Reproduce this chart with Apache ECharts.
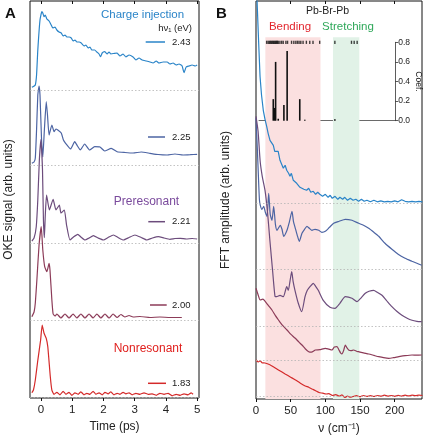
<!DOCTYPE html>
<html><head><meta charset="utf-8">
<script src="https://cdn.jsdelivr.net/npm/echarts@6/dist/echarts.min.js"></script>
<style>html,body{margin:0;padding:0;background:#fff}#c{width:424px;height:440px}</style>
</head><body><div id="c"></div>
<script>
const FONT = '"Liberation Sans", Arial, Helvetica, sans-serif';
const energies = ['2.43', '2.25', '2.21', '2.00', '1.83'];
const colors = ['#2a84c8', '#4c64a3', '#6c4c7c', '#8c3b58', '#d42a2a'];

// ---- Panel A: OKE signal vs time (ps), value above each trace's baseline ----
const a243_t = [-0.29,-0.24,-0.18,-0.14,-0.10,-0.03,0.03,0.06,0.10,0.14,0.19,0.26,0.33,0.38,0.45,0.51,0.58,0.65,0.71,0.77,0.83,0.90,0.97,1.03,1.09,1.15,1.22,1.29,1.38,1.44,1.51,1.57,1.63,1.72,1.79,1.86,1.91,1.96,2.04,2.12,2.18,2.24,2.36,2.44,2.53,2.63,2.72,2.82,2.95,3.04,3.14,3.24,3.37,3.49,3.59,3.69,3.78,3.91,4.04,4.13,4.23,4.33,4.42,4.52,4.58,4.65,4.74,4.84,4.94,5.00];
const a243_v = [2.7,3.5,5,15,40,70,78.3,77,73.3,75,71,69,65,62,63,60,58,57,54,55,53,53,52,49,50,48,48,47,44,45,42,43,40,40,38,36,33.3,37,38.3,36,38,36,36.7,37,34,36,33,35,33,30,32,30,29,28,27,29,27,28,28,26,27,25,26,24,17.3,23,24,25,24,25];
const a225_t = [-0.29,-0.22,-0.18,-0.14,-0.10,-0.06,-0.03,0.02,0.06,0.11,0.17,0.21,0.26,0.35,0.42,0.48,0.54,0.65,0.72,0.79,0.95,1.08,1.17,1.26,1.40,1.56,1.72,1.89,2.04,2.25,2.44,2.69,2.95,3.21,3.49,3.75,4.04,4.29,4.55,4.78,5.00];
const a225_v = [1.7,3,7,35,70,79,70,25,8,35,63.3,50,30,40,33.3,36,35,32,25,21.7,16,23.3,19,15,21,15,18.3,18,14,16.7,13.3,12.5,12,13,11.7,10.5,10,11,10,10.3,10.7];
const a221_t = [-0.29,-0.22,-0.15,-0.10,-0.05,0.00,0.05,0.08,0.11,0.14,0.18,0.27,0.39,0.48,0.59,0.64,0.75,0.82,0.93,1.04,1.18,1.28,1.41,1.54,1.68,1.83,2.00,2.15,2.32,2.47,2.64,2.82,3.01,3.21,3.39,3.57,3.76,3.94,4.13,4.29,4.46,4.65,4.84,5.00];
const a221_v = [2.7,5.7,17,44,84,104,74,24,6,29,48.7,33.7,44.4,33.7,38.7,30.7,33.7,18.7,3.7,6.7,9.4,6.7,3.7,5.7,8,5.7,3.7,6.2,8.7,6.2,3.7,6.2,8.7,6.2,3.7,5.7,7,5.7,4.4,5.2,5.4,4.7,5.2,4.7];
const a200_t = [-0.29,-0.22,-0.18,-0.13,-0.06,0.01,0.06,0.12,0.19,0.26,0.29,0.35,0.39,0.45,0.51,0.64,0.77,0.90,1.03,1.15,1.28,1.41,1.54,1.67,1.79,1.92,2.05,2.18,2.31,2.44,2.56,2.69,2.82,2.95,3.17,3.49,3.81,4.13,4.51];
const a200_v = [3.3,8,17,40,75,93.3,70,53.3,48.3,56.7,50,20,6,4,6,2,6,2,6,2,6,2,6,2,6,2,6,2,6,2.5,5.5,3,4.5,3,3.5,2.5,3,2.5,2.5];
const a183_t = [-0.29,-0.24,-0.18,-0.10,-0.01,0.04,0.10,0.17,0.22,0.30,0.35,0.42,0.51,0.61,0.71,0.80,0.90,0.99,1.09,1.19,1.28,1.38,1.47,1.57,1.67,1.76,1.86,1.96,2.05,2.15,2.24,2.34,2.44,2.53,2.63,2.72,2.82,2.92,3.04,3.17,3.30,3.43,3.56,3.69,3.81,3.94,4.07,4.20,4.33,4.46,4.58,4.71,4.81,4.87];
const a183_v = [4.6,7.3,17.3,37,57.3,72.3,64,59,50.6,20.6,7.3,3,5,2.5,6,3,5,2,4.5,3,5.5,2.5,4,3,6,3,4.5,2.5,5,3.5,5.5,2.5,4,3,5,3.5,4.5,2.5,4,3,4.5,3,3.5,2,4,3,4,1.5,3,2,3.5,2.5,4.5,3];
const traceOffsetsA = [308, 233, 154.3, 78, 0.7];

// ---- Panel B: FFT amplitude vs wavenumber (cm^-1) ----
const b243_nu = [0,1.5,3.3,5.8,8,10.5,13,15.4,17.5,20.2,22,25,27,29.8,32,34.6,37,39.4,42,44.3,47,49,51,53.8,56,58.7,61,63.4,66,69,71,73,76,79,82.6,86,89,92,96,100,104,107,110,114,118,121,125,128,132,136,140,144,148,152,156,160,165,170,175,180,185,190,195,200,205,210,215,220,225,230,235,240];
const b243_v = [260,203,170,127,108,93,84,77,70,63,65,58,52,50,52,43,45,35,38,33,30,27,30,23,25,20,22,16,18,14,16,13,15,11,12,9,11,9,7,9,6,8,5,7,4,6,4,6,3,5,3,4,2,4,2,3,1.5,3,1.5,2.5,1.5,2,1.5,2.5,1.5,3.5,2,1.5,2,1.5,2,1.5];
const b225_nu = [0,2,4,5,6.2,8.5,11.1,13.5,15.9,18.3,20.5,23,25.5,28,30.3,35,37.5,40,44.7,48,51.9,54,56.7,59.5,62.4,66.3,70,73.5,77,80.7,85,90.4,95,100,106,112,120,128.8,138.4,148,155,162.5,170,177,186,196,205,215,225,232,239];
const b225_v = [151,119,84,69,64,60,63,57,53,76,55,49,63,45,39,44,40,33,39,47,58,48,41,34,28,36,40,43,41,39,40,39,37,38,42,46,48,50,49,46,44,41,37,33,26,20,15,11,8,6,4];
const b221_nu = [0,3,6,9,13,16.5,20,24,27.4,29.8,34.6,39.4,44.3,46.6,49,51.5,53.5,56.2,61,65.9,70.7,74,77.9,82.6,86,89.8,97,106.7,113.9,121,128.8,138.4,145.6,151,157.6,163,169.7,175,181.7,188,196,203,210.5,218,225,232,239];
const b221_v = [210,195,165,150,136,115,86,55,30,29.6,31,29.6,39.6,36,45,54.6,45,36,23,14.6,29.6,36,39.6,43,40,36,26,19,18,23,29.6,28,24.6,28,33,35,36,34,31,26,19.6,15,11,8,6,5,4.6];
const b200_nu = [0,3,6,10,13.5,18,23,28,32.4,38,44.7,50,56.7,62,66.3,71,76,80,85.6,92,100,105,109.6,113,116.8,119.5,122,124,126.5,128.8,131,133.6,137,140.8,145,148,155,162.5,170,177,184,191.4,198,206,215,225,232,239];
const b200_v = [72.4,66,60.7,61.5,59,55,50.7,45,40.7,35.5,30.7,26.5,22.4,18.5,15.7,12,9,8.5,10.7,11,12.4,11.5,10.7,13.7,14,11,7.7,6.7,10.5,15.7,13,10.7,10,10.7,9.5,9,7.8,6.7,5.3,4,3,2.4,3,4,5,5.7,5.5,5.7];
const b183_nu = [0,3.5,6,8.5,13,20,25,33,42,50,57,64,71,76,81,86,91,96,101,105,110,115,120,124,128,132,136,140,145,150,155,160,165,170,175,180,185,190,195,200,205,210,215,220,225,230,235,240];
const b183_v = [36.7,34.7,36,34,33.7,32,30,26.5,22.7,19.5,16.7,13.5,10.7,9.5,7.7,6,4.2,3.5,2.7,3,1.2,2,0.7,1.8,-0.8,0.5,-0.5,0.2,1,0,1.2,0.3,1,0.2,1.2,0.5,1.5,0.6,1.2,0.4,1.3,0.6,1.5,0.8,1.5,1,1.6,1.2];
const traceOffsetsB = [195.7, 129.7, 72.7, 38.3, 2.3];

// bands (cm^-1)
const bendingBand = [13.5, 93];
const stretchingBand = [111, 149];
// inset: Pb-Br-Pb coefficients
const coefNu = [25, 26.9, 28.4, 32.2, 40.4, 45.1, 63.4, 70.7, 114.3];
const coefVal = [0.22, 0.13, 0.60, 0.02, 0.16, 0.71, 0.22, 0.01, 0.015];
const modeNu = [15.4,17.5,19.2,20.8,22.1,23.6,25,26.2,27.4,28.6,29.8,31,32.2,34.6,37.1,39.4,43.3,45.7,51.5,54.8,57.7,60.1,62.4,64.9,68.2,73,77.9,82.6,92.3,114.3,138.4,142.3,146.6];
const modeLevel = 0.8;

const tracesA = [[a243_t,a243_v],[a225_t,a225_v],[a221_t,a221_v],[a200_t,a200_v],[a183_t,a183_v]];
const tracesB = [[b243_nu,b243_v],[b225_nu,b225_v],[b221_nu,b221_v],[b200_nu,b200_v],[b183_nu,b183_v]];
function pairs(xs, ys, off) { return xs.map((x, i) => [x, ys[i] + off]); }

const dotted = { color: '#b4b4b4', type: [1.5, 2], width: 0.8 };
const series = [];
// band series first (drawn under the traces)
series.push({
  type: 'line', xAxisIndex: 2, yAxisIndex: 1, data: [], z: 1, silent: true,
  markArea: { silent: true, data: [
    [{ xAxis: bendingBand[0], yAxis: 0, itemStyle: { color: '#fbe0e0' } }, { xAxis: bendingBand[1], yAxis: 361.7 }],
    [{ xAxis: stretchingBand[0], yAxis: 0, itemStyle: { color: '#e1f2e7' } }, { xAxis: stretchingBand[1], yAxis: 361.7 }]
  ] }
});
tracesA.forEach((tr, i) => {
  series.push({
    type: 'line', xAxisIndex: 0, yAxisIndex: 0, data: pairs(tr[0], tr[1], traceOffsetsA[i]),
    symbol: 'none', smooth: 0.15, z: 3, lineStyle: { color: colors[i], width: 1.2 },
    markLine: { silent: true, symbol: 'none', label: { show: false }, lineStyle: dotted, data: [{ yAxis: traceOffsetsA[i] }] }
  });
});
tracesB.forEach((tr, i) => {
  series.push({
    type: 'line', xAxisIndex: 2, yAxisIndex: 1, data: pairs(tr[0], tr[1], traceOffsetsB[i]),
    symbol: 'none', smooth: i === 0 ? 0 : 0.2, z: 3, lineStyle: { color: colors[i], width: 1.2 },
    markLine: { silent: true, symbol: 'none', label: { show: false }, lineStyle: dotted, data: [{ yAxis: traceOffsetsB[i] }] }
  });
});
series.push({
  type: 'bar', xAxisIndex: 4, yAxisIndex: 2, data: coefNu.map((n, i) => [n, coefVal[i]]),
  barWidth: 1.6, itemStyle: { color: '#111' }, z: 5, silent: true
});
series.push({
  type: 'scatter', xAxisIndex: 4, yAxisIndex: 2, data: modeNu.map(n => [n, modeLevel]),
  symbol: 'rect', symbolSize: [1.4, 3.2], itemStyle: { color: '#111' }, z: 5, silent: true
});

const axLine = { color: '#111', width: 1 };
const tickA = [0, 1, 2, 3, 4, 5];
const tickB = [0, 50, 100, 150, 200];
const labelStyle = { fontFamily: FONT, fontSize: 11.5, color: '#222' };

const gLine = (x1, x2, y, c) => ({ type: 'line', shape: { x1, y1: y, x2, y2: y }, style: { stroke: c, lineWidth: 1.5 } });
const gText = (x, y, text, opts) => ({ type: 'text', x, y, style: Object.assign({ text, fontFamily: FONT, fontSize: 9.5, fill: '#222', align: 'left', verticalAlign: 'middle' }, opts || {}) });
const legendY = [42, 137, 221.7, 305, 383.3];
const legendX = [[145.7, 165], [148, 165], [148.3, 165], [150, 166.7], [148, 166]];
const graphics = [];
energies.forEach((e, i) => {
  graphics.push(gLine(legendX[i][0], legendX[i][1], legendY[i], colors[i]));
  graphics.push(gText(172, legendY[i], e));
});
graphics.push(gText(142.5, 15, 'Charge injection', { fontSize: 11.5, fill: '#2a84c8', align: 'center' }));
graphics.push(gText(192, 28.5, 'hν₁ (eV)', { fontSize: 9.5, align: 'right' }));
graphics.push(gText(146.5, 201.7, 'Preresonant', { fontSize: 12, fill: '#7a4a9c', align: 'center' }));
graphics.push(gText(148, 349, 'Nonresonant', { fontSize: 12, fill: '#e0201e', align: 'center' }));
graphics.push(gText(10.5, 14, 'A', { fontSize: 15, fontWeight: 'bold', fill: '#111', align: 'center' }));
graphics.push(gText(221.5, 14, 'B', { fontSize: 15, fontWeight: 'bold', fill: '#111', align: 'center' }));
graphics.push(gText(327.5, 10.7, 'Pb-Br-Pb', { fontSize: 10.5, align: 'center' }));
graphics.push(gText(290, 26.7, 'Bending', { fontSize: 11.5, fill: '#e2262e', align: 'center' }));
graphics.push(gText(348, 26.7, 'Stretching', { fontSize: 11.5, fill: '#2fa85a', align: 'center' }));

const option = {
  animation: false,
  backgroundColor: '#fff',
  textStyle: { fontFamily: FONT },
  grid: [
    { left: 30, right: 225, top: 1, bottom: 42, show: true, borderColor: '#111', borderWidth: 1, backgroundColor: 'transparent' },
    { left: 256, right: 2, top: 1, bottom: 41, show: true, borderColor: '#111', borderWidth: 1, backgroundColor: 'transparent' },
    { left: 259, right: 28, top: 42.3, bottom: 319.3, show: false }
  ],
  xAxis: [
    { gridIndex: 0, type: 'value', min: -0.35, max: 5.06, axisLine: { show: false },
      axisTick: { show: true, length: 3, inside: false, customValues: tickA, lineStyle: axLine },
      axisLabel: Object.assign({ customValues: tickA, margin: 6 }, labelStyle), splitLine: { show: false },
      name: 'Time (ps)', nameLocation: 'middle', nameGap: 22, nameTextStyle: { fontFamily: FONT, fontSize: 12, color: '#222' } },
    { gridIndex: 0, type: 'value', position: 'top', min: -0.35, max: 5.06, axisLine: { show: false },
      axisTick: { show: true, length: 3, inside: true, customValues: tickA, lineStyle: axLine },
      axisLabel: { show: false }, splitLine: { show: false } },
    { gridIndex: 1, type: 'value', min: 0, max: 239.4, axisLine: { show: false },
      axisTick: { show: true, length: 3, inside: false, customValues: tickB, lineStyle: axLine },
      axisLabel: Object.assign({ customValues: tickB, margin: 6 }, labelStyle), splitLine: { show: false },
      name: 'ν (cm⁻¹)', nameLocation: 'middle', nameGap: 24, nameTextStyle: { fontFamily: FONT, fontSize: 12, color: '#222' } },
    { gridIndex: 1, type: 'value', position: 'top', min: 0, max: 239.4, axisLine: { show: false },
      axisTick: { show: true, length: 3, inside: true, customValues: [50, 100, 150, 200], lineStyle: axLine },
      axisLabel: { show: false }, splitLine: { show: false } },
    { gridIndex: 2, type: 'value', min: 4.3, max: 201.9,
      axisLine: { show: true, onZero: false, lineStyle: { color: '#444', width: 0.8 } },
      axisTick: { show: false }, axisLabel: { show: false }, splitLine: { show: false } }
  ],
  yAxis: [
    { gridIndex: 0, type: 'value', min: 0, max: 397, axisLine: { show: false }, axisTick: { show: false },
      axisLabel: { show: false }, splitLine: { show: false },
      name: 'OKE signal (arb. units)', nameLocation: 'middle', nameGap: 15, nameTextStyle: { fontFamily: FONT, fontSize: 12, color: '#222' } },
    { gridIndex: 1, type: 'value', min: 0, max: 398, axisLine: { show: false }, axisTick: { show: false },
      axisLabel: { show: false }, splitLine: { show: false },
      name: 'FFT amplitude (arb. units)', nameLocation: 'middle', nameGap: 24, nameTextStyle: { fontFamily: FONT, fontSize: 12, color: '#222' } },
    { gridIndex: 2, type: 'value', position: 'right', min: 0, max: 0.8, interval: 0.2,
      axisLine: { show: true, lineStyle: { color: '#333', width: 0.8 } },
      axisTick: { show: true, length: 3, inside: false, lineStyle: { color: '#333', width: 0.8 } },
      axisLabel: { fontFamily: FONT, fontSize: 8.5, margin: 3, color: '#222', formatter: v => v.toFixed(1) },
      splitLine: { show: false },
      name: 'Coef.', nameLocation: 'middle', nameRotate: -90, nameGap: 18, nameTextStyle: { fontFamily: FONT, fontSize: 8.5, color: '#222' } }
  ],
  series,
  graphic: graphics
};
const chart = echarts.init(document.getElementById('c'), null, { renderer: 'canvas' });
chart.setOption(option);
</script></body></html>
